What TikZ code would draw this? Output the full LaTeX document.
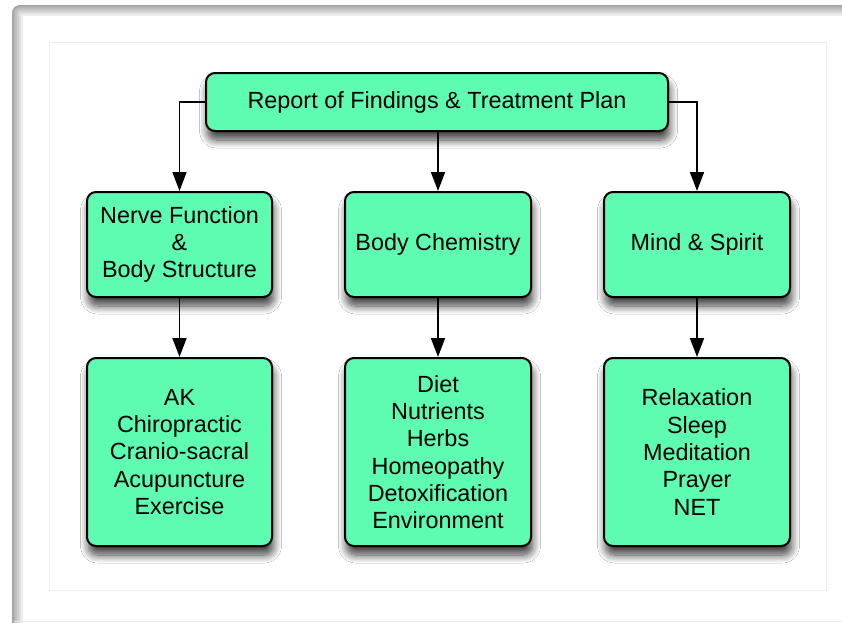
\documentclass[tikz,border=0pt]{standalone}
\usepackage{fontspec}
\setmainfont{Liberation Sans}
\usetikzlibrary{arrows.meta,shadows.blur}
\definecolor{boxgreen}{RGB}{94,252,176}
\definecolor{innerline}{RGB}{238,238,238}
\tikzset{
  box/.style={draw=black, line width=2pt, fill=boxgreen, rounded corners=9pt,
    inner sep=0pt, align=center, font=\fontsize{23.4}{27.3}\selectfont,
    blur shadow={shadow xshift=1.5pt, shadow yshift=-9pt, shadow blur radius=8pt, shadow blur steps=10, shadow opacity=75}},
  conn/.style={line width=1.7pt, draw=black, -{Triangle[length=19pt,width=14pt]}}
}
\begin{document}
\begin{tikzpicture}[x=1pt,y=-1pt]
\useasboundingbox (0,0) rectangle (842,622);
\fill[white] (0,0) rectangle (842,622);
% outer frame with inset shadow
\begin{scope}
  \clip[rounded corners=8pt] (12,5) rectangle (900,660);
  \foreach \w in {22,17,13,9,5,2}
    \draw[black, opacity=0.07, line width=\w pt, rounded corners=8pt] (12,5) rectangle (900,660);
\end{scope}
\draw[black!8, line width=0.8pt] (14,621.5) -- (842,621.5);
% inner rectangle
\draw[innerline, line width=1pt] (49,42) rectangle (826,590);
% nodes
\node[box, minimum width=462pt, minimum height=58pt] (top) at (437,102) {Report of Findings \& Treatment Plan};
\node[box, minimum width=185pt, minimum height=105pt] (n1) at (179.5,244.5) {Nerve Function\\\&\\Body Structure};
\node[box, minimum width=186pt, minimum height=105pt] (n2) at (438,244.5) {Body Chemistry};
\node[box, minimum width=186pt, minimum height=105pt] (n3) at (697,244.5) {Mind \& Spirit};
\node[box, minimum width=185pt, minimum height=188pt] (l1) at (179.5,452) {AK\\Chiropractic\\Cranio-sacral\\Acupuncture\\Exercise};
\node[box, minimum width=186pt, minimum height=188pt] (l2) at (438,452) {Diet\\Nutrients\\Herbs\\Homeopathy\\Detoxification\\Environment};
\node[box, minimum width=186pt, minimum height=188pt] (l3) at (697,452) {Relaxation\\Sleep\\Meditation\\Prayer\\NET};
% connectors
\draw[conn] (top.west) -| (n1.north);
\draw[conn] (top.south -| n2.north) -- (n2.north);
\draw[conn] (top.east) -| (n3.north);
\draw[conn] (n1) -- (l1);
\draw[conn] (n2) -- (l2);
\draw[conn] (n3) -- (l3);
\end{tikzpicture}
\end{document}
